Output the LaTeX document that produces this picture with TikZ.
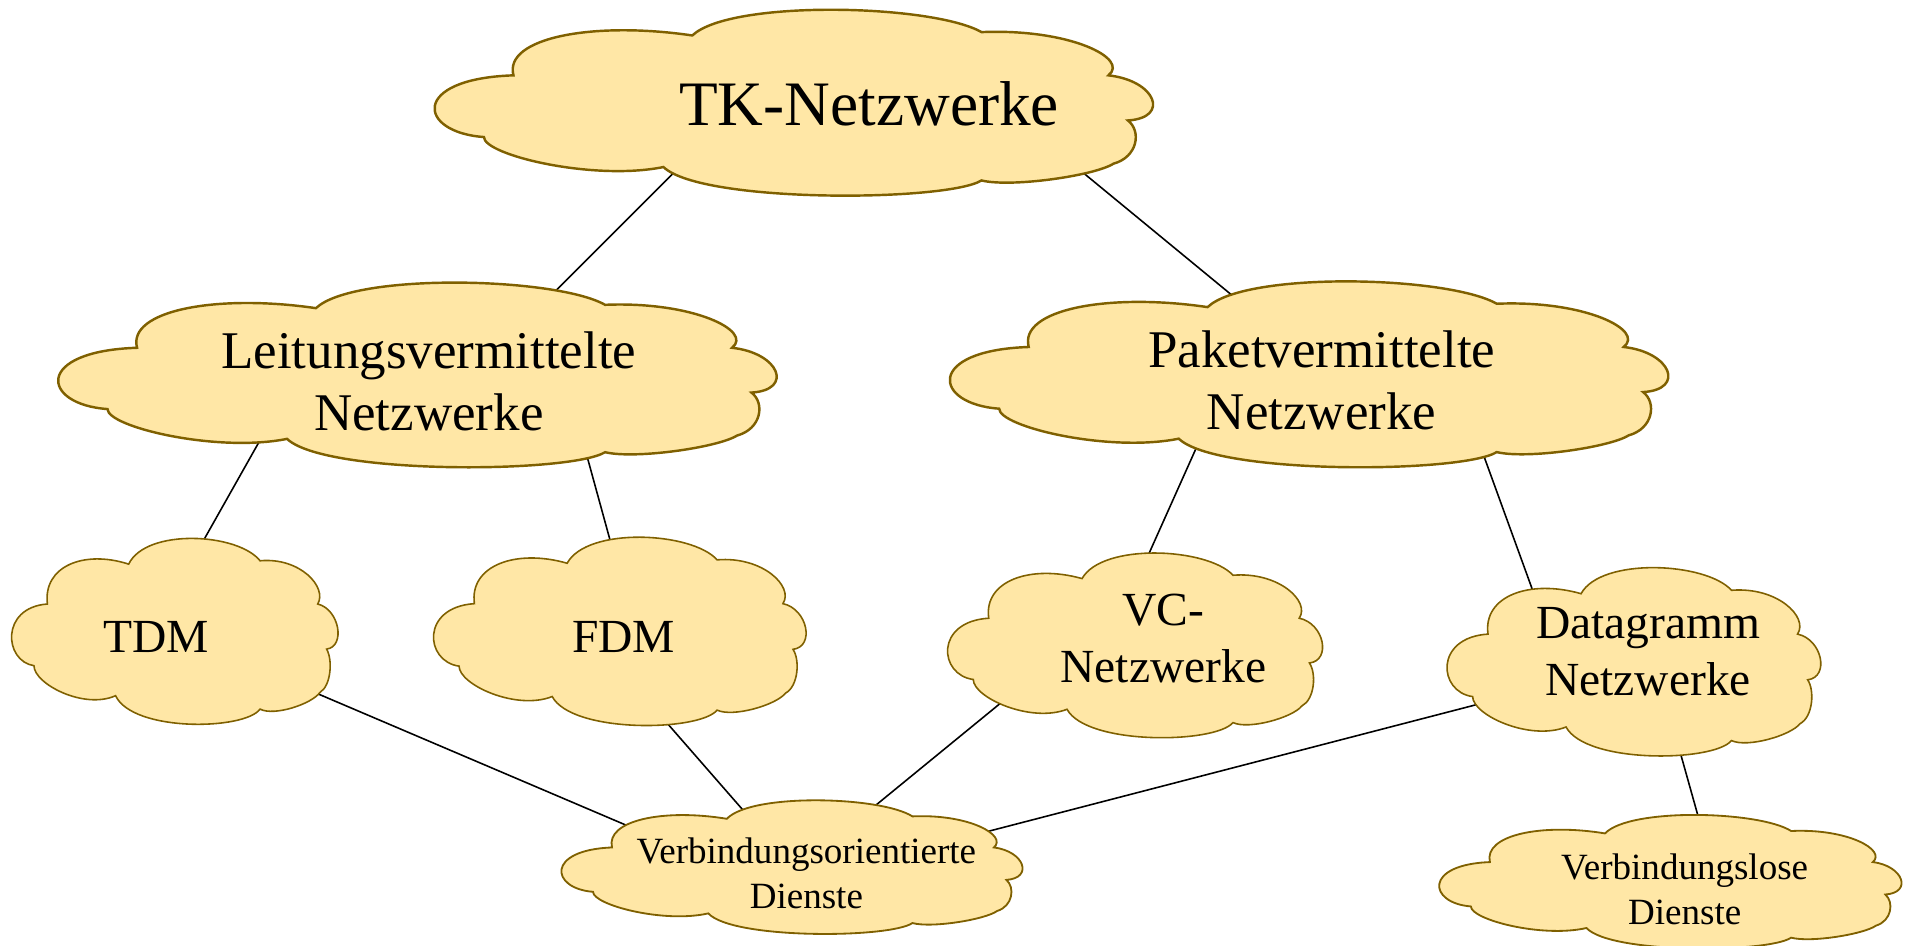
\documentclass[tikz,border=0pt]{standalone}
\usepackage{fontspec}
\setmainfont{Liberation Serif}

\pgfdeclarelayer{lines}
\pgfdeclarelayer{clouds}
\pgfsetlayers{lines,clouds,main}

\definecolor{cloudfill}{HTML}{FFE7A6}
\definecolor{cloudedge}{HTML}{7F6000}

% cloud with top-left corner (#1,#2), width #3, height #4, outline width #5;
% the outline is nine puffs in a unit box with y pointing down
\newcommand\drawcloud[5]{%
  \begin{scope}[shift={(#1,#2)},x={({#3},0)},y={(0,{#4})}]
    \filldraw[cloudshape,line width=#5]
      (0.068,0.683) .. controls (-0.024,0.658) and (-0.035,0.370) .. (0.109,0.352)
                    .. controls (0.095,0.150) and (0.220,0.060) .. (0.357,0.138)
                    .. controls (0.410,-0.056) and (0.690,-0.030) .. (0.758,0.120)
                    .. controls (0.880,0.100) and (0.964,0.262) .. (0.934,0.352)
                    .. controls (1.000,0.380) and (1.020,0.580) .. (0.961,0.594)
                    .. controls (0.980,0.650) and (0.975,0.790) .. (0.941,0.826)
                    .. controls (0.915,0.890) and (0.800,0.955) .. (0.758,0.916)
                    .. controls (0.710,1.030) and (0.370,1.040) .. (0.317,0.844)
                    .. controls (0.220,0.920) and (0.068,0.780) .. (0.068,0.683)
      -- cycle;
  \end{scope}}

\tikzset{
  cloudshape/.style={fill=cloudfill,draw=cloudedge,line join=miter},
  conn/.style={draw=black,line width=1.3pt},
  lbl/.style={inner sep=0pt,align=center,text=black},
  fontA/.style={font=\fontsize{52}{62}\selectfont},
  fontB/.style={font=\fontsize{43.5}{51}\selectfont},
  fontC/.style={font=\fontsize{39}{47}\selectfont},
  fontD/.style={font=\fontsize{30.4}{37}\selectfont},
}

\begin{document}
\begin{tikzpicture}[x=1pt,y=-1pt]
\useasboundingbox (0,0) rectangle (1568,776);

% labels
\node[lbl,fontA,anchor=base] (tk) at (713.5,103) {TK-Netzwerke};
\node[lbl,fontB] (lv) at (352,313) {Leitungsvermittelte\\Netzwerke};
\node[lbl,fontB] (pv) at (1085,312) {Paketvermittelte\\Netzwerke};
\node[lbl,fontC,anchor=base] (tdm) at (128,536) {TDM};
\node[lbl,fontC,anchor=base] (fdm) at (512,536) {FDM};
\node[lbl,fontC] (vc) at (955,524) {VC-\\Netzwerke};
\node[lbl,fontC] (dg) at (1353,535) {Datagramm\\Netzwerke};
\node[lbl,fontD] (vo) at (662,717) {Verbindungsorientierte\\Dienste};
\node[lbl,fontD] (vl) at (1383,730) {Verbindungslose\\Dienste};

% cloud outlines
\begin{pgfonlayer}{clouds}
  \drawcloud{357}{8}{592}{153}{2pt}
  \drawcloud{48}{232}{592}{152}{2pt}
  \drawcloud{780}{231}{592}{153}{2pt}
  \drawcloud{9.6}{442}{269}{153}{1.3pt}
  \drawcloud{356}{441}{307}{155}{1.3pt}
  \drawcloud{778}{454}{309}{152}{1.3pt}
  \drawcloud{1188}{466}{308}{155}{1.3pt}
  \drawcloud{461}{657}{380}{110}{1.5pt}
  \drawcloud{1181.6}{669}{381}{110}{1.5pt}
\end{pgfonlayer}

% connectors
\begin{pgfonlayer}{lines}
  \draw[conn] ([shift={(-153,31.5)}]tk.base) -- ([shift={(97.5,-67.5)}]lv.center);
  \draw[conn] ([shift={(171.8,35.6)}]tk.base) -- ([shift={(-66.3,-63.6)}]pv.center);
  \draw[conn] ([shift={(-135.1,42.3)}]lv.center) -- ([shift={(35.1,-85.3)}]tdm.base);
  \draw[conn] ([shift={(127.4,52.4)}]lv.center) -- ([shift={(-8.4,-82.4)}]fdm.base);
  \draw[conn] ([shift={(-99.9,48.9)}]pv.center) -- ([shift={(-16.1,-59.9)}]vc.center);
  \draw[conn] ([shift={(129.6,52.6)}]pv.center) -- ([shift={(-91.6,-41.6)}]dg.center);
  \draw[conn] ([shift={(124.8,30.1)}]tdm.base) -- ([shift={(-139.8,-36.1)}]vo.center);
  \draw[conn] ([shift={(29.4,50.5)}]fdm.base) -- ([shift={(-46.4,-45.5)}]vo.center);
  \draw[conn] ([shift={(-129.3,49.7)}]vc.center) -- ([shift={(49.3,-49.7)}]vo.center);
  \draw[conn] ([shift={(-133.3,41.5)}]dg.center) -- ([shift={(145.3,-33.5)}]vo.center);
  \draw[conn] ([shift={(24.3,75.4)}]dg.center) -- ([shift={(13.7,-50.4)}]vl.center);
\end{pgfonlayer}
\end{tikzpicture}
\end{document}
